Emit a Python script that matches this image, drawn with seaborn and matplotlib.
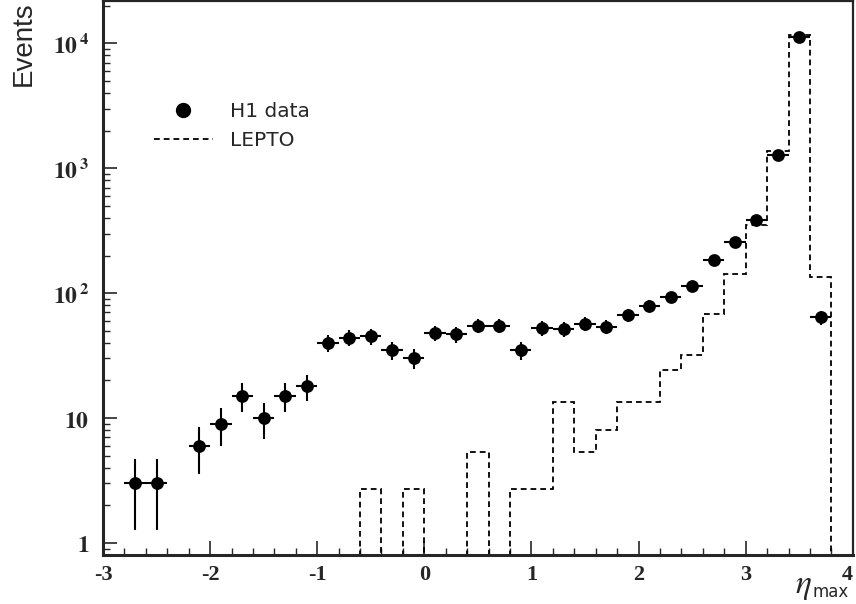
import numpy as np
import matplotlib
matplotlib.use("Agg")
import matplotlib.pyplot as plt
import seaborn as sns
from matplotlib.lines import Line2D
from matplotlib.ticker import FixedLocator, MultipleLocator, LogLocator, NullFormatter

# ─── Data ────────────────────────────────────────────────────────────────────
# H1 data: bin centres (bin width 0.2), counts and error sizes
data_eta = [-2.7, -2.5, -2.1, -1.9, -1.7, -1.5, -1.3, -1.1, -0.9, -0.7, -0.5,
            -0.3, -0.1, 0.1, 0.3, 0.5, 0.7, 0.9, 1.1, 1.3, 1.5, 1.7, 1.9,
            2.1, 2.3, 2.5, 2.7, 2.9, 3.1, 3.3, 3.5, 3.7]
data_counts = [3, 3, 6, 9, 15, 10, 15, 18, 40, 44, 45,
               35, 30, 48, 47, 55, 55, 35, 53, 52, 57, 54, 67,
               79, 93, 114, 184, 257, 386, 1277, 11170, 64]
data_err = [1.73, 1.73, 2.45, 3.0, 3.9, 3.2, 3.9, 4.2, 6.3, 6.6, 6.7,
            5.9, 5.5, 6.9, 6.9, 7.4, 7.4, 5.9, 7.3, 7.2, 7.5, 7.3, 8.2,
            8.9, 9.6, 10.7, 13.6, 16.0, 19.6, 35.7, 105.7, 8.0]

# LEPTO histogram: bin edges -3 .. 4 in steps of 0.2
lepto_edges = [-3.0, -2.8, -2.6, -2.4, -2.2, -2.0, -1.8, -1.6, -1.4, -1.2, -1.0,
               -0.8, -0.6, -0.4, -0.2, 0.0, 0.2, 0.4, 0.6, 0.8, 1.0, 1.2,
               1.4, 1.6, 1.8, 2.0, 2.2, 2.4, 2.6, 2.8, 3.0, 3.2, 3.4, 3.6,
               3.8, 4.0]
lepto_vals = [0, 0, 0, 0, 0, 0, 0, 0, 0, 0,
              0, 0, 2.69, 0, 2.69, 0, 0, 5.38, 0, 2.69,
              2.69, 13.45, 5.38, 8.07, 13.45, 13.45, 24.2, 32.2, 67.5, 142,
              354, 1368, 11590, 134, 0]

x_ticks = [-3, -2, -1, 0, 1, 2, 3, 4]
y_ticks = [1, 10, 100, 1000, 10000]
y_ticklabels = [r"$\mathbf{1}$", r"$\mathbf{10}$", r"$\mathbf{10}^{\,\mathbf{2}}$",
                r"$\mathbf{10}^{\,\mathbf{3}}$", r"$\mathbf{10}^{\,\mathbf{4}}$"]

# ─── Style ───────────────────────────────────────────────────────────────────
sns.set_style("ticks")
plt.rcParams["font.family"] = ["DejaVu Sans"]
plt.rcParams["mathtext.fontset"] = "stix"

fig = plt.figure(figsize=(8.56, 6.04), dpi=100)
ax = fig.add_axes([0.1203, 0.0811, 0.876, 0.918])

# ─── LEPTO (dashed histogram) ────────────────────────────────────────────────
draw_vals = np.where(np.array(lepto_vals) > 0, lepto_vals, 1e-3)
ax.stairs(draw_vals, lepto_edges, color="black", linestyle=(0, (3.2, 2.2)),
          linewidth=1.3, baseline=None, zorder=2)

# ─── H1 data (points with errors) ────────────────────────────────────────────
ax.errorbar(data_eta, data_counts, xerr=0.1, yerr=data_err, fmt="none",
            ecolor="black", elinewidth=1.5, capsize=0, zorder=3)
sns.scatterplot(x=data_eta, y=data_counts, ax=ax, color="black", s=85,
                marker="o", edgecolor="black", linewidth=0, zorder=4)

# ─── Axes ────────────────────────────────────────────────────────────────────
ax.set_yscale("log")
ax.set_xlim(-3, 4)
ax.set_ylim(0.80, 22000)

ax.xaxis.set_major_locator(FixedLocator(x_ticks))
ax.xaxis.set_minor_locator(MultipleLocator(0.2))
ax.set_xticklabels([str(t) for t in x_ticks])
ax.yaxis.set_major_locator(FixedLocator(y_ticks))
ax.set_yticklabels(y_ticklabels)
ax.yaxis.set_minor_locator(LogLocator(base=10, subs=np.arange(2, 10)))
ax.yaxis.set_minor_formatter(NullFormatter())

ax.tick_params(axis="both", which="major", direction="in", length=10, width=1.2,
               top=False, right=False)
ax.tick_params(axis="x", which="major", pad=7)
ax.tick_params(axis="y", which="major", pad=10)
ax.tick_params(axis="both", which="minor", direction="in", length=5, width=1.0,
               top=False, right=False)
for lab in ax.get_xticklabels():
    lab.set_fontfamily("Liberation Serif")
    lab.set_fontweight("bold")
    lab.set_fontsize(16)
# last label sits at the figure edge: keep it inside
ax.get_xticklabels()[-1].set_horizontalalignment("right")
for lab in ax.get_yticklabels():
    lab.set_fontsize(17)

for side in ["left", "bottom"]:
    ax.spines[side].set_linewidth(2.2)
for side in ["right", "top"]:
    ax.spines[side].set_linewidth(1.6)

# axis titles
fig.text(0.012, 1 - 86 / 604, "Events", rotation=90, ha="left", va="bottom",
         fontsize=20, fontfamily="Liberation Sans")
fig.text(795 / 856, 1 - 602 / 604, r"$\eta$", ha="left", va="bottom",
         fontsize=24)
fig.text(812 / 856, 1 - 601 / 604, "max", ha="left", va="bottom",
         fontsize=12, fontfamily="DejaVu Sans")

# ─── Legend ──────────────────────────────────────────────────────────────────
handles = [Line2D([], [], color="black", marker="o", markersize=10, linestyle="none"),
           Line2D([], [], color="black", linestyle=(0, (3.2, 2.2)), linewidth=1.3)]
ax.legend(handles, ["H1 data", "LEPTO"], loc="upper left",
          bbox_to_anchor=(0.055, 0.835), frameon=False,
          handlelength=2.9, handletextpad=0.85, labelspacing=0.5, borderpad=0,
          prop={"family": "DejaVu Sans", "size": 14.5})

fig.savefig("out.png", dpi=100)
